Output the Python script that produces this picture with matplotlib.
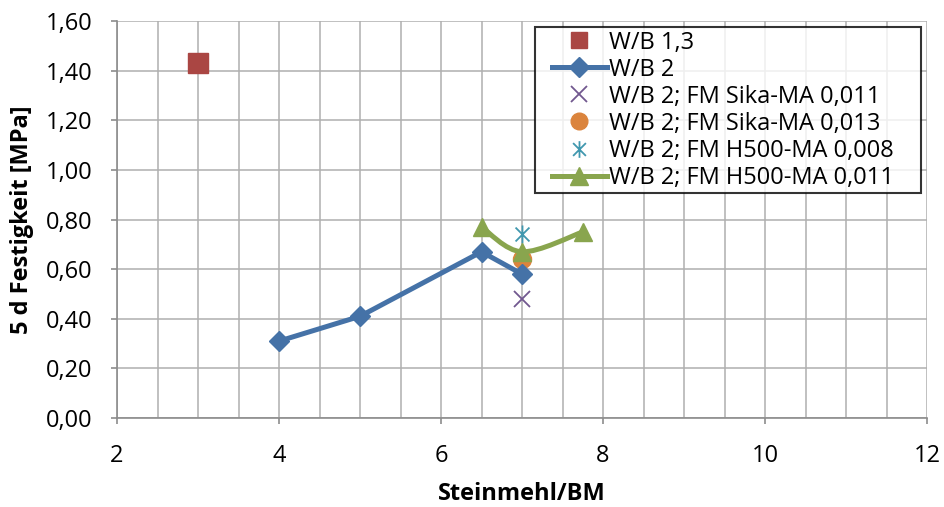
import numpy as np
import matplotlib.pyplot as plt
from matplotlib.path import Path
from matplotlib.patches import PathPatch
from matplotlib.lines import Line2D
from matplotlib.legend_handler import HandlerLine2D

plt.rcParams['font.family'] = ['Open Sans', 'DejaVu Sans']

# data
wb13_x = [3]
wb13_y = [1.43]
wb2_x = [4, 5, 6.5, 7]
wb2_y = [0.31, 0.41, 0.67, 0.58]
sika011_x = [7]
sika011_y = [0.48]
sika013_x = [7]
sika013_y = [0.64]
h500_008_x = [7]
h500_008_y = [0.74]
h500_011_x = [6.5, 7, 7.75]
h500_011_y = [0.77, 0.67, 0.75]

labels = ['W/B 1,3', 'W/B 2', 'W/B 2; FM Sika-MA 0,011',
          'W/B 2; FM Sika-MA 0,013', 'W/B 2; FM H500-MA 0,008',
          'W/B 2; FM H500-MA 0,011']

RED = '#AA4643'
BLUE = '#4572A7'
PURPLE = '#71588F'
ORANGE = '#DB843D'
TEAL = '#4198AF'
GREEN = '#89A54E'
FS = 17

# excel-like asterisk: x plus vertical bar
star = Path([(-1, -1), (1, 1), (-1, 1), (1, -1), (0, -1.3), (0, 1.3)],
            [Path.MOVETO, Path.LINETO, Path.MOVETO, Path.LINETO,
             Path.MOVETO, Path.LINETO])


def smooth_path(ax, xs, ys):
    # catmull-rom style bezier in display space, like excel's smoothed line
    pts = ax.transData.transform(np.column_stack([xs, ys]))
    n = len(pts)
    verts = [pts[0]]
    codes = [Path.MOVETO]
    for i in range(n - 1):
        p0 = pts[max(i - 1, 0)]
        p1 = pts[i]
        p2 = pts[i + 1]
        p3 = pts[min(i + 2, n - 1)]
        c1 = p1 + (p2 - p0) / 6.0
        c2 = p2 - (p3 - p1) / 6.0
        verts += [c1, c2, p2]
        codes += [Path.CURVE4] * 3
    verts = ax.transData.inverted().transform(np.array(verts))
    return Path(verts, codes)


fig = plt.figure(figsize=(9.44, 5.07), dpi=100)
ax = fig.add_axes([0.124, 0.1755, 0.858, 0.783])
ax.set_xlim(2, 12)
ax.set_ylim(0, 1.6)
ax.set_xticks(np.arange(2, 12.1, 2))
ax.set_xticks(np.arange(2, 12.1, 0.5), minor=True)
ax.set_yticks(np.arange(0, 1.61, 0.2))
ax.set_yticklabels([('%.2f' % v).replace('.', ',') for v in np.arange(0, 1.61, 0.2)])
ax.grid(True, which='both', color='#AFAFAF', lw=1.1)
ax.set_axisbelow(True)
for s in ['top', 'right']:
    ax.spines[s].set_visible(False)
for s in ['left', 'bottom']:
    ax.spines[s].set_color('#8C8C8C')
    ax.spines[s].set_linewidth(1.2)
ax.tick_params(axis='both', which='major', length=4.5, color='#8C8C8C',
               labelsize=FS, width=1.2)
ax.tick_params(axis='y', pad=13)
ax.tick_params(axis='x', pad=14)
ax.tick_params(axis='x', which='minor', length=0)

ax.plot(wb13_x, wb13_y, ls='none', marker='s', ms=14, color=RED, zorder=3)
ax.plot(wb2_x, wb2_y, color=BLUE, lw=3.6, marker='D', ms=10, zorder=4)
ax.plot(sika011_x, sika011_y, ls='none', marker='x', ms=12, mew=1.3, color=PURPLE, zorder=3)
ax.plot(sika013_x, sika013_y, ls='none', marker='o', ms=13, color=ORANGE, zorder=3)
ax.plot(h500_008_x, h500_008_y, ls='none', marker=star, ms=13, mew=1.3,
        mfc='none', color=TEAL, zorder=3)
fig.canvas.draw()
ax.add_patch(PathPatch(smooth_path(ax, h500_011_x, h500_011_y), fc='none',
                       ec=GREEN, lw=3.6, capstyle='round', zorder=5))
ax.plot(h500_011_x, h500_011_y, ls='none', marker='^', ms=13, color=GREEN, zorder=5)

ax.set_xlabel('Steinmehl/BM', fontsize=FS, fontweight='bold')
ax.set_ylabel('5 d Festigkeit [MPa]', fontsize=FS, fontweight='bold')
ax.xaxis.set_label_coords(0.5, -0.16)
ax.yaxis.set_label_coords(-0.103, 0.5)

handles = [
    Line2D([], [], ls='none', marker='s', ms=12, color=RED),
    Line2D([], [], color=BLUE, lw=3.6, marker='D', ms=10),
    Line2D([], [], ls='none', marker='x', ms=11, mew=1.3, color=PURPLE),
    Line2D([], [], ls='none', marker='o', ms=12, color=ORANGE),
    Line2D([], [], ls='none', marker=star, ms=12, mew=1.3, mfc='none', color=TEAL),
    Line2D([], [], color=GREEN, lw=3.6, marker='^', ms=13),
]
leg = ax.legend(handles, labels, loc='upper left', mode='expand',
                bbox_to_anchor=(0.516, 0.0, 0.4766, 0.985),
                fontsize=FS, frameon=True, fancybox=False, handlelength=2.9,
                handletextpad=0.1, labelspacing=0.13, borderpad=0.15,
                borderaxespad=0, numpoints=1,
                handler_map={Line2D: HandlerLine2D(xpad=0.57)})
leg.get_frame().set_edgecolor('black')
leg.get_frame().set_linewidth(1.5)
leg.set_zorder(10)

fig.savefig('out.png', dpi=100)
